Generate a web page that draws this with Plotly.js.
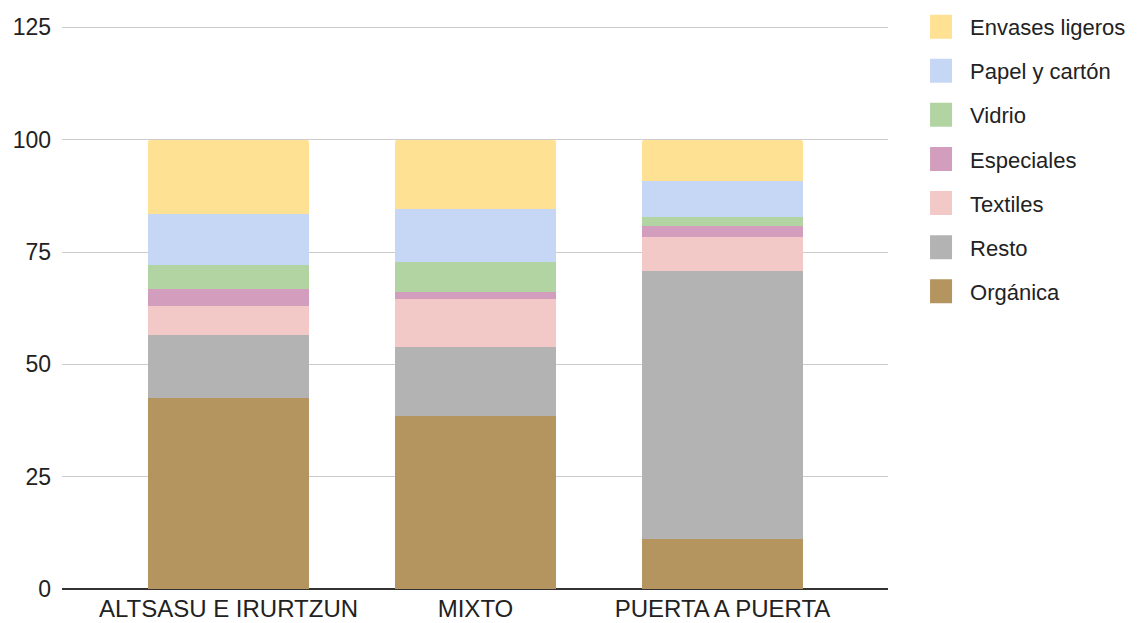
<!DOCTYPE html>
<html>
<head>
<meta charset="utf-8">
<script src="https://cdn.plot.ly/plotly-3.0.1.min.js"></script>
<style>
html,body{margin:0;padding:0;background:#fff;}
#chart{width:1142px;height:623px;}
</style>
</head>
<body>
<div id="chart"></div>
<script>
const categories = ["ALTSASU E IRURTZUN", "MIXTO", "PUERTA A PUERTA"];
const organica   = [42.6, 38.5, 11.1];
const resto      = [14.0, 15.4, 59.6];
const textiles   = [6.3, 10.6, 7.7];
const especiales = [3.9, 1.7, 2.3];
const vidrio     = [5.4, 6.5, 2.0];
const papel      = [11.2, 11.8, 8.2];
const envases    = [16.6, 15.5, 9.1];
const yTicks = [0, 25, 50, 75, 100, 125];

const seriesNames = ["Orgánica", "Resto", "Textiles", "Especiales", "Vidrio", "Papel y cartón", "Envases ligeros"];
const seriesValues = [organica, resto, textiles, especiales, vidrio, papel, envases];
const seriesColors = ["#b4945f", "#b3b3b3", "#f2c9c7", "#d39dbe", "#b2d4a2", "#c6d7f5", "#ffe193"];

const traces = seriesNames.map((name, i) => ({
  type: "bar",
  name: name,
  x: categories,
  y: seriesValues[i],
  marker: {color: seriesColors[i], line: {width: 0}},
  legendgroup: "g" + i,
  legendrank: seriesNames.length - i,
  hoverinfo: "x+y+name"
}));

const layout = {
  width: 1142,
  height: 623,
  barmode: "stack",
  bargap: 0.348,
  barcornerradius: 3,
  paper_bgcolor: "#fff",
  plot_bgcolor: "#fff",
  margin: {l: 62, r: 254, t: 25.6, b: 33.5, pad: 0},
  font: {family: "Liberation Sans, Arial, sans-serif", color: "#222", size: 21},
  xaxis: {
    type: "category",
    range: [-0.674, 2.670],
    showgrid: false,
    showline: false,
    zeroline: false,
    ticks: "",
    ticklabelstandoff: 3,
    tickfont: {size: 24, color: "#222"},
    fixedrange: true
  },
  yaxis: {
    range: [0, 125.3],
    tickvals: yTicks,
    ticktext: yTicks.map(String),
    showgrid: true,
    gridcolor: "#cccccc",
    gridwidth: 1,
    zeroline: true,
    zerolinecolor: "#333333",
    zerolinewidth: 1.5,
    showline: false,
    ticks: "",
    ticklabelstandoff: 10,
    tickfont: {size: 23, color: "#222"},
    fixedrange: true
  },
  showlegend: true,
  legend: {
    xref: "container",
    yref: "container",
    x: 0.8144,
    y: 0.9906,
    xanchor: "left",
    yanchor: "top",
    traceorder: "grouped",
    tracegroupgap: 12.5,
    font: {size: 22, color: "#222"},
    bgcolor: "rgba(0,0,0,0)",
    borderwidth: 0
  }
};

Plotly.newPlot("chart", traces, layout, {displayModeBar: false, staticPlot: true}).then(() => {
  document.querySelectorAll("#chart .legendpoints path").forEach(p => {
    p.setAttribute("d", "M2,12H-22V-12H2Z");
  });
});
</script>
</body>
</html>
